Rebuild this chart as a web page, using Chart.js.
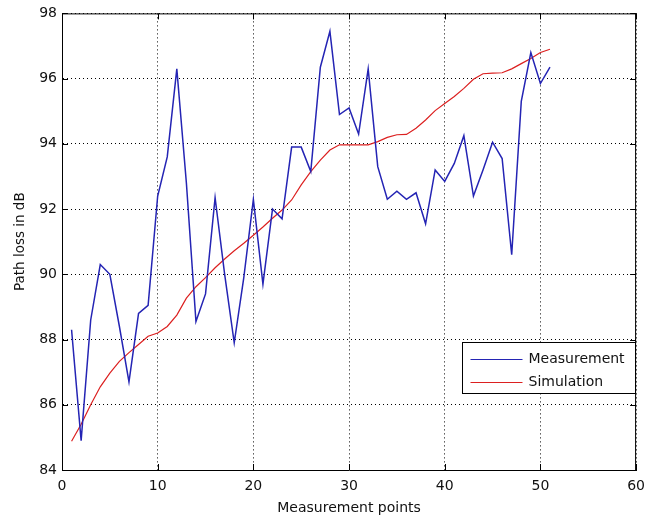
<!DOCTYPE html>
<html>
<head>
<meta charset="utf-8">
<title>Path loss</title>
<script src="https://cdn.jsdelivr.net/npm/chart.js@4.4.1/dist/chart.umd.min.js"></script>
<style>
    html, body { margin: 0; padding: 0; background: #fff; }
    #wrap { width: 653px; height: 520px; }
</style>
</head>
<body>
<div id="wrap"><canvas id="lossChart" width="653" height="520"></canvas></div>
<script>
// x positions of the measurement points
const points = [1, 2, 3, 4, 5, 6, 7, 8, 9, 10, 11, 12, 13, 14, 15, 16, 17, 18, 19, 20,
    21, 22, 23, 24, 25, 26, 27, 28, 29, 30, 31, 32, 33, 34, 35, 36, 37, 38, 39, 40,
    41, 42, 43, 44, 45, 46, 47, 48, 49, 50, 51];

// path loss values in dB
const measurement = [88.3, 84.9, 88.6, 90.3, 90.0, 88.4, 86.7, 88.8, 89.05, 92.4,
    93.6, 96.3, 92.8, 88.55, 89.4, 92.35, 90.0, 87.9, 89.9, 92.3,
    89.7, 92.0, 91.7, 93.9, 93.9, 93.15, 96.35, 97.45, 94.9, 95.1,
    94.3, 96.3, 93.3, 92.3, 92.55, 92.3, 92.5, 91.55, 93.2, 92.85,
    93.4, 94.25, 92.4, 93.2, 94.05, 93.55, 90.6, 95.3, 96.8, 95.85, 96.35];

const simulation = [84.88, 85.4, 86.0, 86.55, 86.97, 87.33, 87.6, 87.85, 88.1, 88.2,
    88.4, 88.75, 89.27, 89.62, 89.9, 90.2, 90.47, 90.72, 90.95, 91.2,
    91.45, 91.72, 91.97, 92.28, 92.74, 93.15, 93.5, 93.81, 93.97, 93.97,
    93.97, 93.97, 94.07, 94.2, 94.28, 94.29, 94.48, 94.73, 95.02, 95.24,
    95.45, 95.7, 95.98, 96.15, 96.17, 96.18, 96.3, 96.46, 96.62, 96.8, 96.9];

// axis ranges and tick spacing
const xRange = [0, 60];
const yRange = [84, 98];
const xStep = 10;
const yStep = 2;

const FONT = 'DejaVu Sans';

function toXY(values) {
    return values.map((v, i) => ({ x: points[i], y: v }));
}

// matlab-style box: top/right edges and inward tick marks
const boxPlugin = {
    id: 'box',
    afterDatasetsDraw(chart) {
        const { ctx, chartArea: a, scales } = chart;
        const len = 6;
        ctx.save();
        ctx.strokeStyle = '#000';
        ctx.lineWidth = 1;
        ctx.beginPath();
        ctx.moveTo(a.left, a.top + 0.5);
        ctx.lineTo(a.right, a.top + 0.5);
        ctx.moveTo(a.right - 0.5, a.top);
        ctx.lineTo(a.right - 0.5, a.bottom);
        scales.x.ticks.forEach(t => {
            const px = Math.round(scales.x.getPixelForValue(t.value)) + 0.5;
            ctx.moveTo(px, a.bottom);
            ctx.lineTo(px, a.bottom - len);
            ctx.moveTo(px, a.top);
            ctx.lineTo(px, a.top + len);
        });
        scales.y.ticks.forEach(t => {
            const py = Math.round(scales.y.getPixelForValue(t.value)) + 0.5;
            ctx.moveTo(a.left, py);
            ctx.lineTo(a.left + len, py);
            ctx.moveTo(a.right, py);
            ctx.lineTo(a.right - len, py);
        });
        ctx.stroke();
        ctx.restore();
    },
    afterDraw(chart) {
        // legend box in lower right part of the axes
        const { ctx, chartArea: a } = chart;
        const w = 173, h = 51;
        const bx = Math.round(a.right - w - 1) + 0.5;
        const by = Math.round(a.bottom - 128) + 0.5;
        ctx.save();
        ctx.fillStyle = '#fff';
        ctx.fillRect(bx, by, w, h);
        ctx.strokeStyle = '#000';
        ctx.lineWidth = 1;
        ctx.strokeRect(bx, by, w, h);
        ctx.font = '14px "' + FONT + '"';
        ctx.textBaseline = 'middle';
        ctx.fillStyle = '#111';
        chart.data.datasets.forEach((ds, i) => {
            const ry = by + 17 + i * 23;
            ctx.strokeStyle = ds.borderColor;
            ctx.lineWidth = 1;
            ctx.beginPath();
            ctx.moveTo(bx + 8, ry);
            ctx.lineTo(bx + 60, ry);
            ctx.stroke();
            ctx.fillText(ds.label, bx + 66, ry);
        });
        ctx.restore();
    }
};

new Chart(document.getElementById('lossChart'), {
    type: 'line',
    data: {
        datasets: [{
            label: 'Measurement',
            data: toXY(measurement),
            borderColor: '#2424b4',
            borderWidth: 1.5,
            pointRadius: 0,
            tension: 0,
            fill: false
        }, {
            label: 'Simulation',
            data: toXY(simulation),
            borderColor: '#dc2020',
            borderWidth: 1.2,
            pointRadius: 0,
            tension: 0,
            fill: false
        }]
    },
    options: {
        responsive: false,
        animation: false,
        layout: { padding: { top: 13, right: 9, left: 0, bottom: 0 } },
        plugins: {
            legend: { display: false },
            tooltip: { enabled: false }
        },
        scales: {
            x: {
                type: 'linear',
                min: xRange[0],
                max: xRange[1],
                afterFit: s => { s.height = 50; },
                ticks: {
                    stepSize: xStep,
                    padding: 8,
                    color: '#111',
                    font: { family: FONT, size: 14 }
                },
                grid: { color: '#000', lineWidth: 1, drawTicks: false },
                border: { display: true, color: '#000', width: 1, dash: [1, 3] },
                title: {
                    display: true,
                    text: 'Measurement points',
                    color: '#111',
                    font: { family: FONT, size: 14 },
                    padding: { top: 0, bottom: 3 }
                }
            },
            y: {
                min: yRange[0],
                max: yRange[1],
                afterFit: s => { s.width = 62; },
                ticks: {
                    stepSize: yStep,
                    padding: 5,
                    color: '#111',
                    font: { family: FONT, size: 14 }
                },
                grid: { color: '#000', lineWidth: 1, drawTicks: false },
                border: { display: true, color: '#000', width: 1, dash: [1, 3] },
                title: {
                    display: true,
                    text: 'Path loss in dB',
                    color: '#111',
                    font: { family: FONT, size: 13.5 },
                    padding: { top: 12, bottom: 0 }
                }
            }
        }
    },
    plugins: [boxPlugin]
});
</script>
</body>
</html>
